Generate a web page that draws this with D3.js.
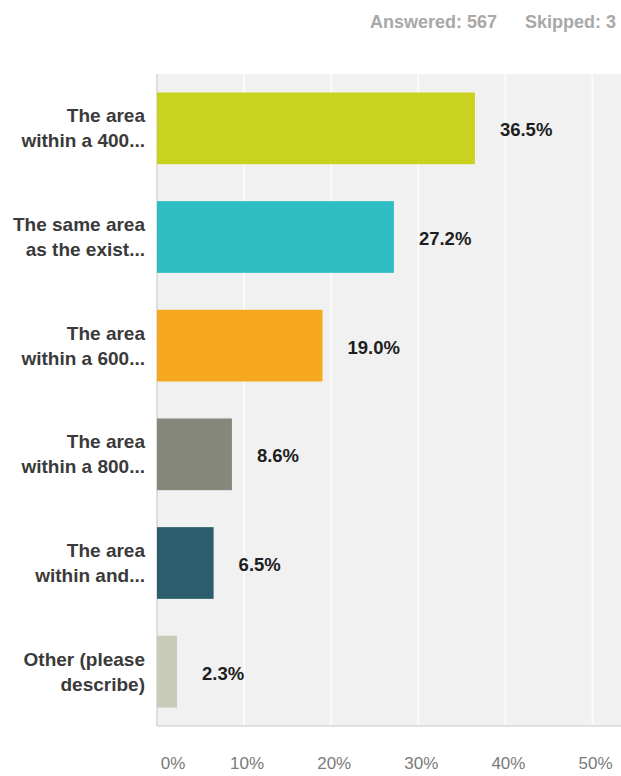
<!DOCTYPE html>
<html>
<head>
<meta charset="utf-8">
<script src="https://cdn.jsdelivr.net/npm/d3@7"></script>
<style>
  body { margin: 0; background: #fff; }
  svg { display: block; font-family: Arial, "Liberation Sans", sans-serif; }
</style>
</head>
<body>
<svg id="chart" width="621" height="776"></svg>
<script>
// Survey answer options (two-line labels) and share of respondents
const categories = [
  ["The area", "within a 400..."],
  ["The same area", "as the exist..."],
  ["The area", "within a 600..."],
  ["The area", "within a 800..."],
  ["The area", "within and..."],
  ["Other (please", "describe)"]
];
const values = [36.5, 27.2, 19.0, 8.6, 6.5, 2.3];
const barColors = ["#c9d21f", "#2fbdc4", "#f6a91e", "#85877b", "#2b5d6d", "#c9cbb9"];
const tickValues = [0, 10, 20, 30, 40, 50];
const answered = 567;
const skipped = 3;

const svg = d3.select("#chart");
const plot = { left: 157, right: 621, top: 74, bottom: 726 };

const x = d3.scaleLinear().domain([0, 50]).range([plot.left, plot.left + 435.5]);
const y = d3.scaleBand()
  .domain(d3.range(categories.length))
  .range([plot.top, plot.bottom])
  .paddingInner(0.34)
  .paddingOuter(0.17);

// Header counts
svg.append("text")
  .attr("x", 497).attr("y", 28)
  .attr("text-anchor", "end")
  .attr("fill", "#a8a8a8")
  .attr("font-size", 18)
  .attr("font-weight", "bold")
  .text(`Answered: ${answered}`);
svg.append("text")
  .attr("x", 616).attr("y", 28)
  .attr("text-anchor", "end")
  .attr("fill", "#a8a8a8")
  .attr("font-size", 18)
  .attr("font-weight", "bold")
  .text(`Skipped: ${skipped}`);

// Plot background
svg.append("rect")
  .attr("x", plot.left).attr("y", plot.top)
  .attr("width", plot.right - plot.left).attr("height", plot.bottom - plot.top)
  .attr("fill", "#f1f1f1");

// Vertical gridlines
svg.append("g").selectAll("line")
  .data(tickValues.slice(1))
  .join("line")
  .attr("x1", d => x(d)).attr("x2", d => x(d))
  .attr("y1", plot.top).attr("y2", plot.bottom)
  .attr("stroke", "#fbfbfb").attr("stroke-width", 2);

// Axis frame lines
svg.append("line")
  .attr("x1", plot.left).attr("x2", plot.left)
  .attr("y1", plot.top).attr("y2", plot.bottom)
  .attr("stroke", "#d4d4d4").attr("stroke-width", 1.5);
svg.append("line")
  .attr("x1", plot.left).attr("x2", plot.right)
  .attr("y1", plot.bottom).attr("y2", plot.bottom)
  .attr("stroke", "#d8d8d8").attr("stroke-width", 1.5);

// Bars
svg.append("g").selectAll("rect")
  .data(values)
  .join("rect")
  .attr("x", x(0))
  .attr("y", (d, i) => y(i))
  .attr("width", d => x(d) - x(0))
  .attr("height", y.bandwidth())
  .attr("fill", (d, i) => barColors[i]);

// Value labels
svg.append("g").selectAll("text")
  .data(values)
  .join("text")
  .attr("x", d => x(d) + 25)
  .attr("y", (d, i) => y(i) + y.bandwidth() / 2 + 8)
  .attr("fill", "#1e1e1e")
  .attr("font-size", 18.5)
  .attr("font-weight", "bold")
  .text(d => d.toFixed(1) + "%");

// Category labels
const catG = svg.append("g");
categories.forEach((lines, i) => {
  const cy = y(i) + y.bandwidth() / 2;
  const t = catG.append("text")
    .attr("text-anchor", "end")
    .attr("fill", "#3a3a3a")
    .attr("font-size", 19)
    .attr("font-weight", "bold");
  lines.forEach((ln, j) => {
    t.append("tspan")
      .attr("x", 145)
      .attr("y", cy - 6 + j * 25)
      .text(ln);
  });
});

// X tick labels
svg.append("g").selectAll("text")
  .data(tickValues)
  .join("text")
  .attr("x", d => d === 0 ? x(d) + 16 : x(d) + 3)
  .attr("y", 769)
  .attr("text-anchor", "middle")
  .attr("fill", "#7a7a7a")
  .attr("font-size", 17)
  .text(d => d + "%");
</script>
</body>
</html>
